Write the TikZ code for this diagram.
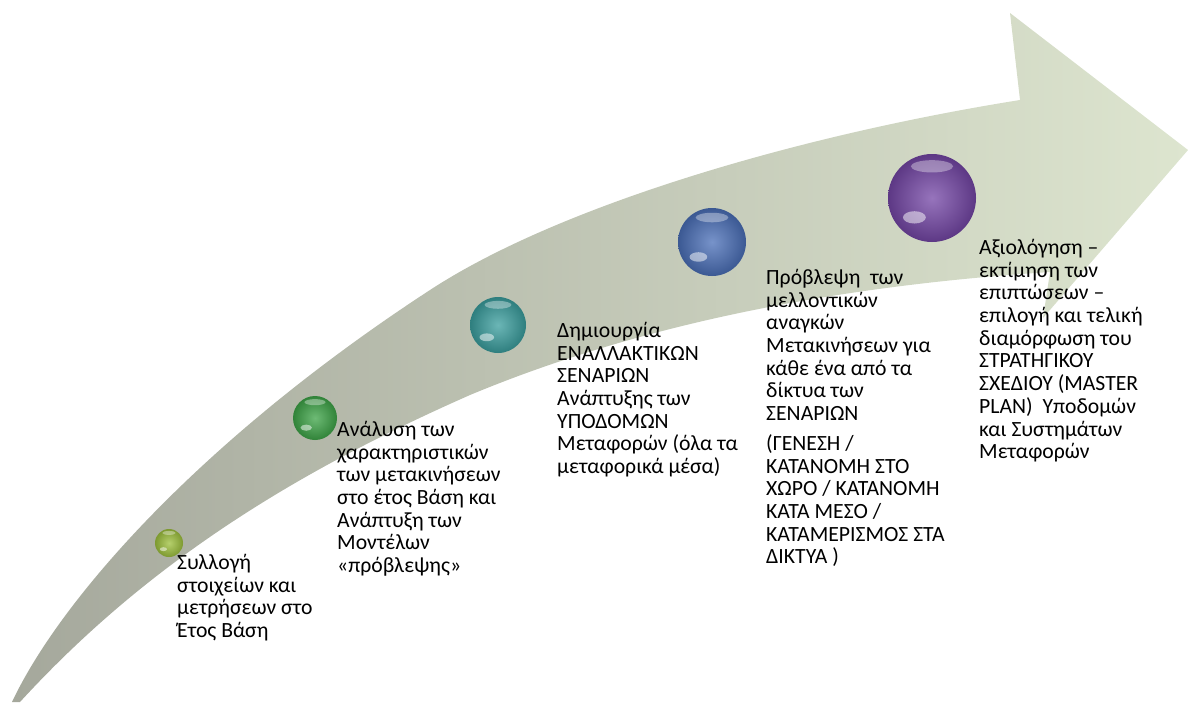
\documentclass[tikz,border=0pt]{standalone}
\usepackage{fontspec}
\setmainfont{Carlito}
\definecolor{tailgray}{RGB}{165,168,156}
\definecolor{headsage}{RGB}{221,229,207}
\definecolor{limeball}{RGB}{157,192,60}
\definecolor{greenball}{RGB}{61,164,71}
\definecolor{tealball}{RGB}{58,158,158}
\definecolor{blueball}{RGB}{74,111,184}
\definecolor{purpleball}{RGB}{116,70,166}
\begin{document}
\begin{tikzpicture}[x=1pt, y=-1pt,
    bead/.style 2 args={circle, inner sep=0pt, minimum size=#2,
        inner color=#1!75!white, outer color=#1!80!black,
        path picture={
            \fill[white, opacity=.5] (path picture bounding box.center) ++(-.2*#2,.22*#2) ellipse ({.13*#2} and {.07*#2});
            \fill[white, opacity=.35] (path picture bounding box.center) ++(0,-.36*#2) ellipse ({.24*#2} and {.07*#2});
        }},
    desc/.style={anchor=north west, inner sep=0pt, align=left,
        font=\fontsize{21.7pt}{22.7pt}\selectfont, execute at begin node=\strut}]
    \useasboundingbox (0,0) rectangle (1188,702);
    % the curved arrow
    \shade[left color=tailgray, right color=headsage]
        (12,702) .. controls (60,600) and (200,440) .. (430,290)
        .. controls (560,205) and (800,135) .. (1020,100)
        -- (1010,13) -- (1188,150) -- (1043,318) -- (1050,272)
        .. controls (850,285) and (650,320) .. (470,395)
        .. controls (300,470) and (150,560) .. (20,702) -- cycle;
    % the beads
    \node[bead={limeball}{28}] (b1) at (169,543) {};
    \node[bead={greenball}{44}] (b2) at (315,418) {};
    \node[bead={tealball}{56}] (b3) at (498,325) {};
    \node[bead={blueball}{68}] (b4) at (712,242) {};
    \node[bead={purpleball}{88}] (b5) at (932,198) {};
    % the steps (top = first baseline - strut height)
    \node[desc] (t1) at (177,554) {Συλλογή\\στοιχείων και\\μετρήσεων στο\\Έτος Βάση};
    \node[desc] (t2) at (337,421) {Ανάλυση των\\χαρακτηριστικών\\των μετακινήσεων\\στο έτος Βάση και\\Ανάπτυξη των\\Μοντέλων\\«πρόβλεψης»};
    \node[desc] (t3) at (557,322) {Δημιουργία\\ΕΝΑΛΛΑΚΤΙΚΩΝ\\ΣΕΝΑΡΙΩΝ\\Ανάπτυξης των\\ΥΠΟΔΟΜΩΝ\\Μεταφορών (όλα τα\\μεταφορικά μέσα)};
    \node[desc] (t4) at (766,269) {Πρόβλεψη\ \ των\\μελλοντικών\\αναγκών\\Μετακινήσεων για\\κάθε ένα από τα\\δίκτυα των\\ΣΕΝΑΡΙΩΝ\\[7pt](ΓΕΝΕΣΗ /\\ΚΑΤΑΝΟΜΗ ΣΤΟ\\ΧΩΡΟ / ΚΑΤΑΝΟΜΗ\\ΚΑΤΑ ΜΕΣΟ /\\ΚΑΤΑΜΕΡΙΣΜΟΣ ΣΤΑ\\ΔΙΚΤΥΑ )};
    \node[desc] (t5) at (979,239) {Αξιολόγηση –\\εκτίμηση των\\επιπτώσεων –\\επιλογή και τελική\\διαμόρφωση του\\ΣΤΡΑΤΗΓΙΚΟΥ\\ΣΧΕΔΙΟΥ (MASTER\\PLAN)\ \ Υποδομών\\και Συστημάτων\\Μεταφορών};
\end{tikzpicture}
\end{document}
